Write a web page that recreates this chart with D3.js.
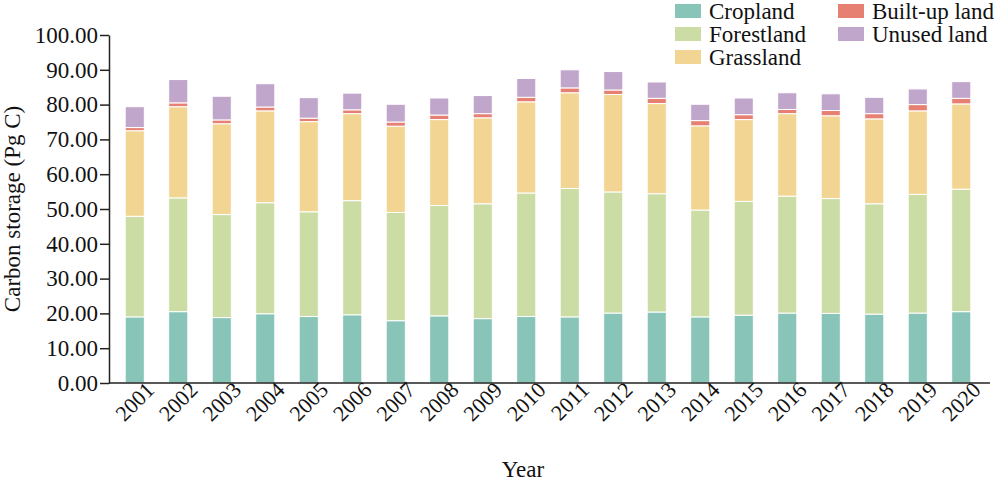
<!DOCTYPE html>
<html>
<head>
<meta charset="utf-8">
<script src="https://d3js.org/d3.v7.min.js"></script>
<style>
  body { margin: 0; background: #fff; }
  text { font-family: "Liberation Serif", "Times New Roman", serif; fill: #111; }
</style>
</head>
<body>
<div id="chart"></div>
<script>
// data (Pg C)
var years = ["2001","2002","2003","2004","2005","2006","2007","2008","2009","2010",
             "2011","2012","2013","2014","2015","2016","2017","2018","2019","2020"];
var cropland   = [19.0,20.5,18.8,19.9,19.1,19.6,17.9,19.3,18.5,19.1,19.0,20.1,20.4,19.0,19.5,20.1,20.0,19.8,20.1,20.5];
var forestland = [28.9,32.7,29.6,31.9,30.1,32.8,31.1,31.7,33.0,35.5,36.9,34.8,34.0,30.7,32.7,33.6,33.0,31.7,34.1,35.2];
var grassland  = [24.6,26.2,26.1,26.4,25.9,25.0,24.8,24.7,24.7,26.2,27.5,28.0,25.9,24.2,23.5,23.7,23.8,24.4,24.0,24.5];
var builtup    = [0.9,1.1,1.1,1.1,1.0,1.1,1.2,1.3,1.2,1.3,1.4,1.3,1.5,1.5,1.4,1.2,1.5,1.5,1.8,1.6];
var unused     = [6.0,6.7,6.8,6.7,5.9,4.8,5.1,4.9,5.2,5.4,5.2,5.3,4.7,4.7,4.8,4.8,4.8,4.7,4.5,4.8];
var seriesNames = ["Cropland","Forestland","Grassland","Built-up land","Unused land"];
var colors = ["#88c4b8","#cbdca5","#f2d593","#e58073","#c1a6cb"];
var yTicks = [0,10,20,30,40,50,60,70,80,90,100];

var width = 1000, height = 482;
var margin = {top: 35, right: 10, bottom: 99, left: 109};

var svg = d3.select("#chart").append("svg")
    .attr("width", width).attr("height", height);

var rows = years.map(function(y, i) {
  return {year: y, "Cropland": cropland[i], "Forestland": forestland[i], "Grassland": grassland[i],
          "Built-up land": builtup[i], "Unused land": unused[i]};
});
var stacked = d3.stack().keys(seriesNames)(rows);

var x = d3.scaleBand().domain(years).range([113, 983]).paddingInner(0.56).paddingOuter(0.28);
var y = d3.scaleLinear().domain([0, 100]).range([height - margin.bottom, margin.top]);
var color = d3.scaleOrdinal().domain(seriesNames).range(colors);

// bars
svg.append("g").selectAll("g")
  .data(stacked).enter().append("g")
    .attr("fill", function(d) { return color(d.key); })
  .selectAll("rect")
  .data(function(d) { return d; }).enter().append("rect")
    .attr("x", function(d) { return x(d.data.year); })
    .attr("y", function(d) { return y(d[1]); })
    .attr("height", function(d) { return y(d[0]) - y(d[1]); })
    .attr("width", x.bandwidth())
    .attr("stroke", "#fff").attr("stroke-width", 1);

// y axis
var yAxis = svg.append("g")
    .attr("transform", "translate(" + margin.left + ",0)")
    .call(d3.axisLeft(y).tickValues(yTicks).tickFormat(d3.format(".2f")).tickSize(9).tickSizeOuter(0));
yAxis.selectAll("text").style("font-size", "23px").attr("x", -11);
yAxis.selectAll("line, path").attr("stroke", "#222").attr("stroke-width", 1.5);

// x axis
var xAxis = svg.append("g")
    .attr("transform", "translate(0," + y(0) + ")")
    .call(d3.axisBottom(x).tickSize(0));
xAxis.select(".domain").attr("d", "M" + margin.left + ",0H990").attr("stroke", "#222").attr("stroke-width", 1.5);
xAxis.selectAll("text")
    .style("font-size", "22px")
    .style("text-anchor", "end")
    .attr("dx", "0.4em").attr("dy", "0.8em")
    .attr("transform", "rotate(-45)");

// axis titles
svg.append("text")
    .attr("transform", "translate(20," + ((margin.top + y(0)) / 2) + ") rotate(-90)")
    .style("text-anchor", "middle").style("font-size", "23px")
    .text("Carbon storage (Pg C)");
svg.append("text")
    .attr("x", 523).attr("y", 477)
    .style("text-anchor", "middle").style("font-size", "23px")
    .text("Year");

// legend
var legPos = [[675, 11], [675, 34], [675, 57], [838, 11], [838, 34]];
var legend = svg.append("g").selectAll("g")
  .data(seriesNames).enter().append("g")
    .attr("transform", function(d, i) { return "translate(" + legPos[i][0] + "," + legPos[i][1] + ")"; });
legend.append("rect").attr("x", 0).attr("y", -7).attr("width", 26).attr("height", 14)
    .attr("fill", function(d) { return color(d); });
legend.append("text").attr("x", 34).attr("y", 0).attr("dy", "0.35em")
    .style("font-size", "23px").text(function(d) { return d; });
</script>
</body>
</html>
